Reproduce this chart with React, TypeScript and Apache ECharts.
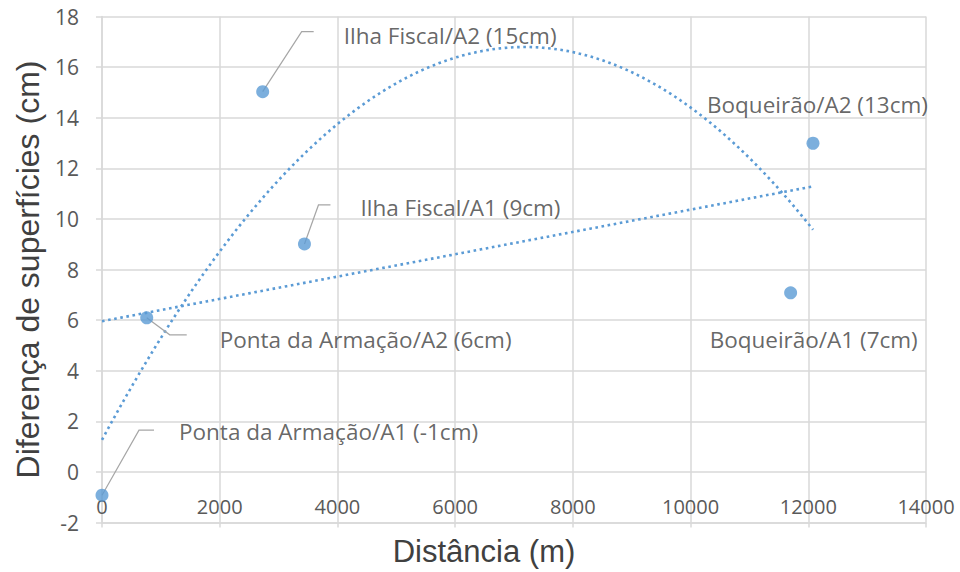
import React, { useEffect, useRef } from 'react';
import * as echarts from 'echarts';

// ---- data ----
const pointNames = [
  'Ponta da Armação/A1 (-1cm)',
  'Ponta da Armação/A2 (6cm)',
  'Ilha Fiscal/A2 (15cm)',
  'Ilha Fiscal/A1 (9cm)',
  'Boqueirão/A2 (13cm)',
  'Boqueirão/A1 (7cm)',
];
const distances = [0, 760, 2730, 3440, 12080, 11700];
const differences = [-0.92, 6.09, 15.03, 9.01, 12.99, 7.08];

const xTitle = 'Distância (m)';
const yTitle = 'Diferença de superfícies (cm)';

// ---- label placement (pixels, relative to the point) ----
const labelOffsets: [number, number][] = [
  [77, -64],
  [73, 22],
  [81, -56],
  [56, -36],
  [-106, -39],
  [-81, 47],
];
const leaderOffsets: ([number, number][] | null)[] = [
  [[37, -65], [52, -65]],
  [[23, 17], [40, 17]],
  [[39, -60], [51, -60]],
  [[14, -39], [26, -39]],
  null,
  null,
];

// ---- least squares trendlines (Excel linear & order-2 polynomial) ----
function linearFit(xs: number[], ys: number[]) {
  const n = xs.length;
  const mx = xs.reduce((a, b) => a + b, 0) / n;
  const my = ys.reduce((a, b) => a + b, 0) / n;
  let sxy = 0, sxx = 0;
  for (let i = 0; i < n; i++) {
    sxy += (xs[i] - mx) * (ys[i] - my);
    sxx += (xs[i] - mx) * (xs[i] - mx);
  }
  const b = sxy / sxx;
  const a = my - b * mx;
  return (x: number) => a + b * x;
}
function quadFit(xs: number[], ys: number[]) {
  const s = [0, 0, 0, 0, 0];
  const t = [0, 0, 0];
  xs.forEach((x0, i) => {
    const x = x0 / 1000;
    for (let k = 0; k < 5; k++) s[k] += Math.pow(x, k);
    for (let k = 0; k < 3; k++) t[k] += ys[i] * Math.pow(x, k);
  });
  const M = [
    [s[0], s[1], s[2], t[0]],
    [s[1], s[2], s[3], t[1]],
    [s[2], s[3], s[4], t[2]],
  ];
  for (let c = 0; c < 3; c++) {
    for (let r = c + 1; r < 3; r++) {
      const f = M[r][c] / M[c][c];
      for (let k = c; k < 4; k++) M[r][k] -= f * M[c][k];
    }
  }
  const coef = [0, 0, 0];
  for (let r = 2; r >= 0; r--) {
    let v = M[r][3];
    for (let k = r + 1; k < 3; k++) v -= M[r][k] * coef[k];
    coef[r] = v / M[r][r];
  }
  return (x0: number) => {
    const x = x0 / 1000;
    return coef[0] + coef[1] * x + coef[2] * x * x;
  };
}

const BLUE = '#5b9bd5';

export default function App() {
  const ref = useRef<HTMLDivElement>(null);
  useEffect(() => {
    if (!ref.current) return;
    const chart = echarts.init(ref.current, null, { renderer: 'svg' });
    const lin = linearFit(distances, differences);
    const quad = quadFit(distances, differences);
    const xMin = Math.min(...distances);
    const xMax = Math.max(...distances);
    const steps = 150;
    const linData: number[][] = [];
    const quadData: number[][] = [];
    for (let i = 0; i <= steps; i++) {
      const x = xMin + ((xMax - xMin) * i) / steps;
      linData.push([x, lin(x)]);
      quadData.push([x, quad(x)]);
    }
    const trendStyle = { color: BLUE, width: 2.6, type: [2.6, 3.6] as any };
    chart.setOption({
      animation: false,
      grid: { left: 102, right: 34, top: 16.5, bottom: 48.6, containLabel: false },
      xAxis: {
        type: 'value',
        min: 0,
        max: 14000,
        interval: 2000,
        name: xTitle,
        nameLocation: 'middle',
        nameGap: 29,
        nameTextStyle: {
          fontFamily: 'Liberation Sans',
          fontSize: 31,
          color: '#404040',
          verticalAlign: 'middle',
          padding: [0, 60, 0, 0],
        },
        axisLine: { show: true, onZero: false, lineStyle: { color: '#d9d9d9', width: 1.5 } },
        axisTick: { show: true, length: 5, lineStyle: { color: '#d9d9d9', width: 1.5 } },
        splitLine: { show: true, lineStyle: { color: '#d9d9d9', width: 1.5 } },
        axisLabel: {
          margin: -16,
          verticalAlign: 'middle',
          fontFamily: 'Open Sans',
          fontSize: 20,
          color: '#595959',
          formatter: (v: number) => String(v),
        },
      },
      yAxis: {
        type: 'value',
        min: -2,
        max: 18,
        interval: 2,
        name: yTitle,
        nameLocation: 'middle',
        nameGap: 72,
        nameRotate: 90,
        nameTextStyle: {
          fontFamily: 'Liberation Sans',
          fontSize: 32,
          color: '#404040',
          verticalAlign: 'middle',
        },
        axisLine: { show: true, lineStyle: { color: '#d9d9d9', width: 1.5 } },
        axisTick: { show: true, length: 6, lineStyle: { color: '#d9d9d9', width: 1.5 } },
        splitLine: { show: true, lineStyle: { color: '#d9d9d9', width: 1.5 } },
        axisLabel: {
          margin: 23,
          fontFamily: 'Open Sans',
          fontSize: 21,
          color: '#595959',
        },
      },
      series: [
        {
          type: 'line',
          data: quadData,
          showSymbol: false,
          symbol: 'none',
          lineStyle: trendStyle,
          z: 3,
        },
        {
          type: 'line',
          data: linData,
          showSymbol: false,
          symbol: 'none',
          lineStyle: trendStyle,
          z: 3,
        },
        {
          type: 'scatter',
          symbol: 'circle',
          symbolSize: 13,
          itemStyle: { color: BLUE },
          z: 5,
          data: distances.map((d, i) => ({
            value: [d, differences[i]],
            name: pointNames[i],
            label: {
              show: true,
              position: 'inside',
              align: 'left',
              verticalAlign: 'middle',
              offset: labelOffsets[i],
              formatter: pointNames[i],
              fontFamily: 'Open Sans',
              fontSize: 22.5,
              color: '#404040',
            },
          })),
        },
      ],
    });

    const graphics: any[] = [];
    distances.forEach((d, i) => {
      const lo = leaderOffsets[i];
      if (!lo) return;
      const p = chart.convertToPixel({ gridIndex: 0 }, [d, differences[i]]) as number[];
      graphics.push({
        type: 'polyline',
        z: 4,
        shape: { points: [[p[0], p[1]], ...lo.map((o) => [p[0] + o[0], p[1] + o[1]])] },
        style: { stroke: '#a6a6a6', lineWidth: 1.2, fill: 'none' },
      });
    });
    chart.setOption({ graphic: graphics });

    return () => chart.dispose();
  }, []);
  return (
    <div
      ref={ref}
      style={{ position: 'fixed', left: 0, top: 0, width: 960, height: 572, background: '#fff' }}
    />
  );
}
